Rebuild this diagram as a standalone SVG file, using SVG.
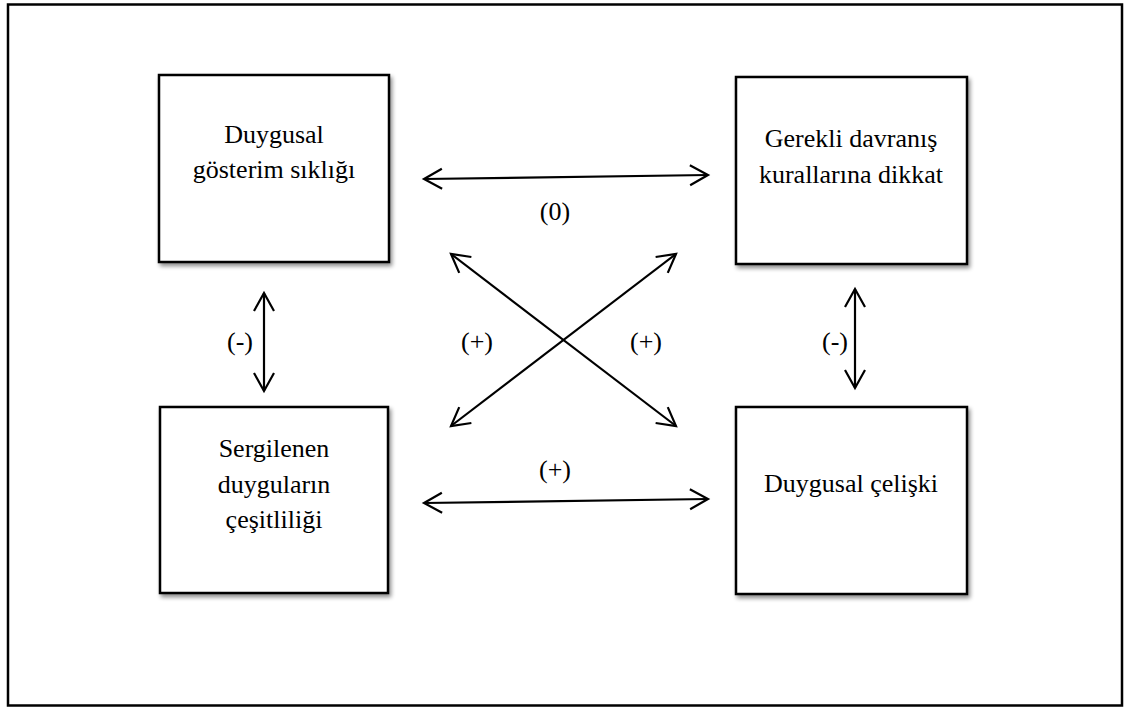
<svg xmlns="http://www.w3.org/2000/svg" width="1126" height="709" viewBox="0 0 1126 709">
<defs>
<style>
.box{fill:#fff;stroke:#000;stroke-width:2.5;filter:url(#sh)}
.t{font-family:"Liberation Serif","Times New Roman",serif;font-size:26px;fill:#000;text-anchor:middle}
.c{stroke:#000;stroke-width:2.2;fill:none;marker-start:url(#ah);marker-end:url(#ah)}
</style>
<filter id="sh" x="-10%" y="-10%" width="125%" height="125%">
<feGaussianBlur in="SourceAlpha" stdDeviation="2"/>
<feOffset dx="2" dy="3" result="b"/>
<feComponentTransfer><feFuncA type="linear" slope="0.45"/></feComponentTransfer>
<feMerge><feMergeNode/><feMergeNode in="SourceGraphic"/></feMerge>
</filter>
<marker id="ah" markerUnits="userSpaceOnUse" markerWidth="24" markerHeight="24" refX="20" refY="12" orient="auto-start-reverse" viewBox="0 0 24 24">
<path d="M2,2 L20,12 L2,22" fill="none" stroke="#000" stroke-width="2.2" stroke-linejoin="miter"/>
</marker>
</defs>
<rect width="1126" height="709" fill="#fff"/>
<rect x="8" y="4.5" width="1114" height="701" fill="none" stroke="#000" stroke-width="2.5"/>
<g id="n1"><rect class="box" x="159" y="75" width="230" height="187"/>
<text class="t" x="274" y="143">Duygusal</text><text class="t" x="274" y="178">gösterim sıklığı</text></g>
<g id="n2"><rect class="box" x="736" y="77" width="231" height="187"/>
<text class="t" x="851" y="147">Gerekli davranış</text><text class="t" x="851" y="183">kurallarına dikkat</text></g>
<g id="n3"><rect class="box" x="160" y="407" width="228" height="186"/>
<text class="t" x="274" y="457">Sergilenen</text><text class="t" x="274" y="493">duyguların</text><text class="t" x="274" y="528">çeşitliliği</text></g>
<g id="n4"><rect class="box" x="736" y="407" width="231" height="187"/>
<text class="t" x="851" y="492">Duygusal çelişki</text></g>
<g id="connectors">
<line class="c" x1="424" y1="179" x2="708" y2="175"/>
<line class="c" x1="424" y1="503" x2="708" y2="499"/>
<line class="c" x1="264" y1="293" x2="264" y2="391"/>
<line class="c" x1="855" y1="289" x2="855" y2="388"/>
<line class="c" x1="451" y1="254" x2="676" y2="426"/>
<line class="c" x1="676" y1="254" x2="451" y2="426"/>
</g>
<g id="labels">
<text class="t" x="555" y="220">(0)</text>
<text class="t" x="555" y="478">(+)</text>
<text class="t" x="240" y="350">(-)</text>
<text class="t" x="835" y="350">(-)</text>
<text class="t" x="477" y="350">(+)</text>
<text class="t" x="646" y="350">(+)</text>
</g>
</svg>
